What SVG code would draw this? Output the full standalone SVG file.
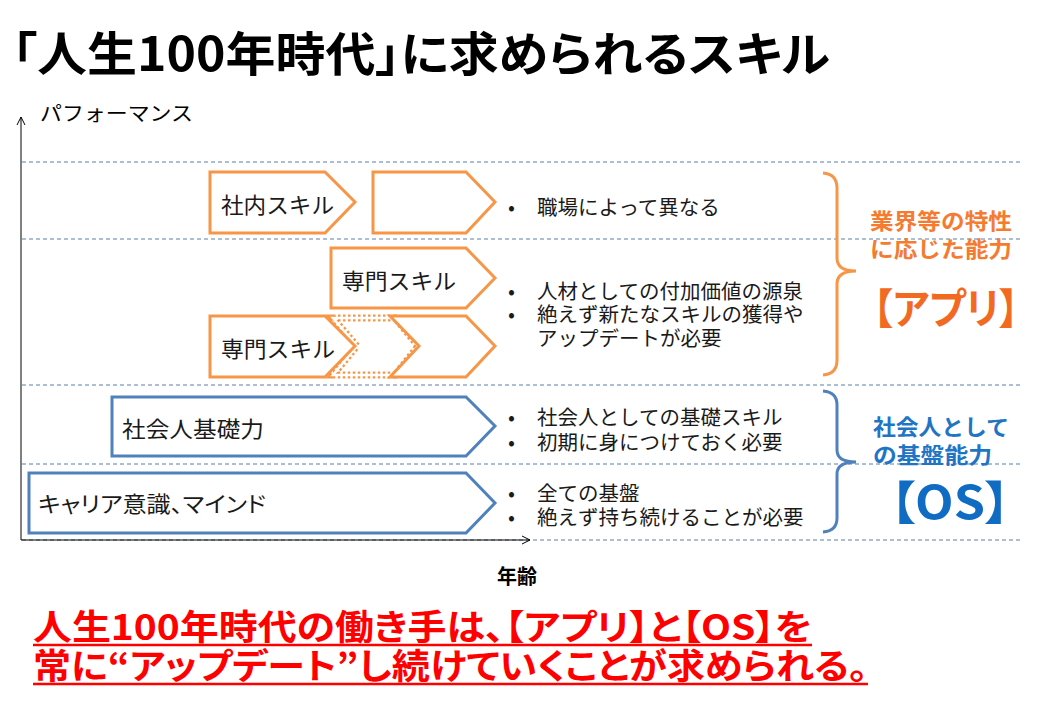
<svg xmlns="http://www.w3.org/2000/svg" width="1040" height="720" viewBox="0 0 1040 720">
<defs>
<style>
text{font-family:"Noto Sans CJK JP","Noto Sans",sans-serif;dominant-baseline:central;}
.p{font-feature-settings:"palt";}
.ttl{font-size:47px;font-weight:700;fill:#000;}
.ax{font-size:20px;fill:#000;}
.nt{font-size:22px;fill:#1a1a1a;}
.bl{font-size:20.5px;fill:#1a1a1a;}
.or{fill:#fff;stroke:#F79646;stroke-width:3;stroke-linejoin:miter;}
.bu{fill:#fff;stroke:#4F81BD;stroke-width:3;stroke-linejoin:miter;}
.grid{stroke:#5B7FA8;stroke-width:1;stroke-dasharray:4 3;fill:none;}
.lbo{font-size:22px;font-weight:700;fill:#F47B30;}
.lbb{font-size:22px;font-weight:700;fill:#1F75C4;}
.red{font-size:35px;font-weight:700;fill:#FF0000;}
</style>
<marker id="arr" markerWidth="10" markerHeight="10" refX="9" refY="5" orient="auto" markerUnits="userSpaceOnUse">
<path d="M1,1 L9,5 L1,9" fill="none" stroke="#000" stroke-width="1"/>
</marker>
</defs>
<rect width="1040" height="720" fill="#fff"/>
<text class="ttl p" x="12" y="50" textLength="818" lengthAdjust="spacingAndGlyphs">「人生100年時代」に求められるスキル</text>
<text class="ax" x="40" y="112" textLength="153" lengthAdjust="spacingAndGlyphs">パフォーマンス</text>
<g id="grid">
<line class="grid" x1="22" y1="162" x2="1020" y2="162"/>
<line class="grid" x1="22" y1="239" x2="1020" y2="239"/>
<line class="grid" x1="22" y1="385" x2="1020" y2="385"/>
<line class="grid" x1="22" y1="464" x2="1020" y2="464"/>
<line class="grid" x1="22" y1="540" x2="1020" y2="540"/>
</g>
<g id="connectors">
<line x1="21" y1="540" x2="21" y2="117" stroke="#000" stroke-width="1" marker-end="url(#arr)"/>
<line x1="21" y1="540" x2="530" y2="540" stroke="#000" stroke-width="1" marker-end="url(#arr)"/>
</g>
<g id="n-shanai">
<path class="or" d="M210,172 L325,172 L355,202 L325,233 L210,233 Z"/>
<text class="nt" x="221" y="203" textLength="113" lengthAdjust="spacingAndGlyphs">社内スキル</text>
</g>
<g id="n-shanai2">
<path class="or" d="M373,172 L466,172 L495,202 L466,233 L373,233 Z"/>
</g>
<g id="n-senmon1">
<path class="or" d="M331,248 L466,248 L495,278 L466,308 L331,308 Z"/>
<text class="nt" x="342" y="279" textLength="114" lengthAdjust="spacingAndGlyphs">専門スキル</text>
</g>
<g id="n-dotted">
<path d="M333,318 L395,318 L418,346 L395,375 L333,375 L357,346 Z" fill="none" stroke="#F79646" stroke-width="7" stroke-dasharray="2.5 2.5"/>
<path d="M333,318 L395,318 L418,346 L395,375 L333,375 L357,346 Z" fill="none" stroke="#fff" stroke-width="2.5"/>
</g>
<g id="n-senmon3">
<path class="or" d="M390,316 L466,316 L495,346 L466,377 L390,377 L419,346 Z"/>
</g>
<g id="n-senmon2">
<path class="or" d="M210,316 L325,316 L355,346 L325,377 L210,377 Z"/>
<text class="nt" x="221" y="347" textLength="114" lengthAdjust="spacingAndGlyphs">専門スキル</text>
</g>
<g id="n-kiso">
<path class="bu" d="M112,397 L466,397 L495,426 L466,456 L112,456 Z"/>
<text class="nt" x="122" y="427" textLength="142" lengthAdjust="spacingAndGlyphs">社会人基礎力</text>
</g>
<g id="n-career">
<path class="bu" d="M29,473 L466,473 L495,503 L466,533 L29,533 Z"/>
<text class="nt p" x="38" y="502" textLength="228" lengthAdjust="spacingAndGlyphs">キャリア意識、マインド</text>
</g>
<g id="bullets">
<text class="bl" x="508" y="206">•</text>
<text class="bl" x="537" y="206">職場によって異なる</text>
<text class="bl" x="508" y="290">•</text>
<text class="bl" x="537" y="290">人材としての付加価値の源泉</text>
<text class="bl" x="508" y="313">•</text>
<text class="bl" x="537" y="313">絶えず新たなスキルの獲得や</text>
<text class="bl" x="537" y="337">アップデートが必要</text>
<text class="bl" x="508" y="416">•</text>
<text class="bl" x="537" y="416">社会人としての基礎スキル</text>
<text class="bl" x="508" y="441">•</text>
<text class="bl" x="537" y="441">初期に身につけておく必要</text>
<text class="bl" x="508" y="492">•</text>
<text class="bl" x="537" y="492">全ての基盤</text>
<text class="bl" x="508" y="516">•</text>
<text class="bl" x="537" y="516">絶えず持ち続けることが必要</text>
</g>
<g id="brace-app">
<path d="M823,173 Q837,174 837,188 L837,258 Q837,271 856,271 Q837,271 837,284 L837,360 Q837,374 823,375" fill="none" stroke="#F79646" stroke-width="3"/>
<text class="lbo" x="870" y="219" textLength="142" lengthAdjust="spacingAndGlyphs">業界等の特性</text>
<text class="lbo" x="870" y="247" textLength="142" lengthAdjust="spacingAndGlyphs">に応じた能力</text>
<text class="p" x="873" y="305" font-size="42" font-weight="700" fill="#F26A22" textLength="146" lengthAdjust="spacingAndGlyphs">【アプリ】</text>
</g>
<g id="brace-os">
<path d="M823,391 Q837,392 837,405 L837,450 Q837,462 856,462 Q837,462 837,474 L837,518 Q837,531 823,532" fill="none" stroke="#4F81BD" stroke-width="3"/>
<text class="lbb" x="873" y="425" textLength="136" lengthAdjust="spacingAndGlyphs">社会人として</text>
<text class="lbb" x="873" y="453" textLength="119" lengthAdjust="spacingAndGlyphs">の基盤能力</text>
<text class="p" x="890" y="499" font-size="46" font-weight="700" fill="#0F6CC2" textLength="120" lengthAdjust="spacingAndGlyphs">【OS】</text>
</g>
<text x="497" y="575" font-size="20" font-weight="700" fill="#000">年齢</text>
<g id="message">
<text class="red p" x="33" y="624" textLength="779" lengthAdjust="spacingAndGlyphs">人生100年時代の働き手は、【アプリ】と【OS】を</text>
<line x1="33" y1="645" x2="812" y2="645" stroke="#FF0000" stroke-width="2.5"/>
<text class="red p" x="33" y="663" textLength="835" lengthAdjust="spacingAndGlyphs">常に“アップデート”し続けていくことが求められる。</text>
<line x1="33" y1="684" x2="868" y2="684" stroke="#FF0000" stroke-width="2.5"/>
</g>
</svg>
